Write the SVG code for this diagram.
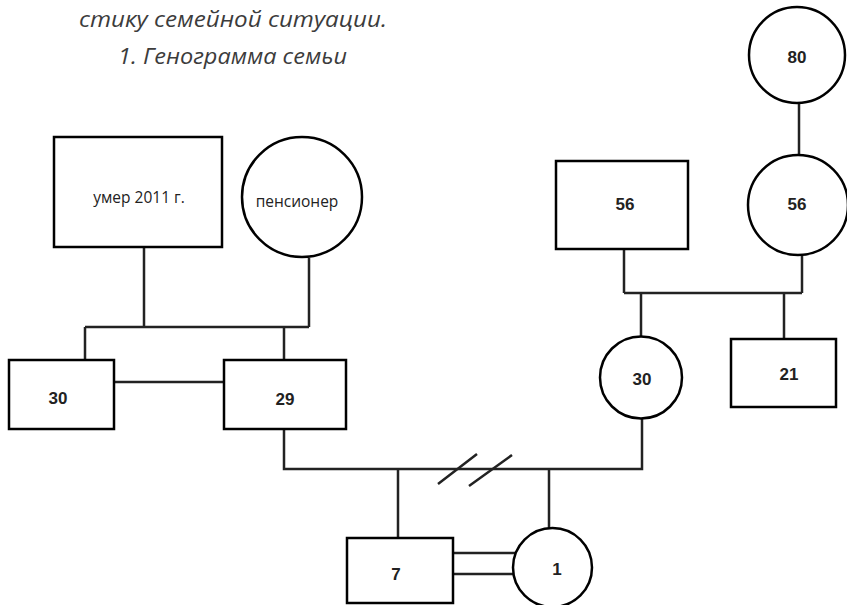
<svg xmlns="http://www.w3.org/2000/svg" width="847" height="605" viewBox="0 0 847 605">
<style>
.shape{fill:#fff;stroke:#000;stroke-width:2.5}
.ln{fill:none;stroke:#222;stroke-width:2.5}
.num{font-family:"Liberation Sans",Arial,sans-serif;font-weight:bold;font-size:17px;fill:#222;text-anchor:middle}
.lbl{font-family:"Open Sans","Liberation Sans",sans-serif;font-size:15.5px;fill:#222;text-anchor:middle}
.title{font-family:"Open Sans","Liberation Sans",sans-serif;font-style:italic;font-size:21px;fill:#3c3c3c}
</style>
<rect width="847" height="605" fill="#fff"/>
<text class="title" x="79" y="27" textLength="308" lengthAdjust="spacingAndGlyphs">стику семейной ситуации.</text>
<text class="title" x="118" y="64" textLength="229" lengthAdjust="spacingAndGlyphs">1. Генограмма семьи</text>
<g id="connectors">
<path class="ln" d="M144,247 V327 M309,258 V327 M85,327 H309 M85,327 V360 M284,327 V360"/>
<path class="ln" d="M114,382 H224"/>
<path class="ln" d="M799,103 V155"/>
<path class="ln" d="M624,249 V293 M802,255 V293 M624,293 H802 M641,293 V337 M784,293 V339"/>
<path class="ln" d="M284,429 V469 H642 V418 M398,469 V538 M549,469 V528"/>
<path class="ln" d="M438,484 L477,454 M469,486 L512,455"/>
<path class="ln" d="M453,553 H515 M453,574 H515"/>
</g>
<g id="n-dead"><rect class="shape" x="54" y="137" width="168" height="110"/><text class="lbl" x="139" y="203">умер 2011 г.</text></g>
<g id="n-pens"><circle class="shape" cx="302" cy="197" r="60"/><text class="lbl" x="297" y="207">пенсионер</text></g>
<g id="n-30m"><rect class="shape" x="9" y="360" width="105" height="69"/><text class="num" x="58" y="404">30</text></g>
<g id="n-29"><rect class="shape" x="224" y="360" width="122" height="69"/><text class="num" x="285" y="405">29</text></g>
<g id="n-80"><circle class="shape" cx="797" cy="55" r="48"/><text class="num" x="797" y="63">80</text></g>
<g id="n-56f"><circle class="shape" cx="798" cy="205" r="50"/><text class="num" x="797" y="210">56</text></g>
<g id="n-56m"><rect class="shape" x="556" y="161" width="132" height="88"/><text class="num" x="625" y="210">56</text></g>
<g id="n-30f"><circle class="shape" cx="641" cy="377.5" r="41"/><text class="num" x="642" y="385">30</text></g>
<g id="n-21"><rect class="shape" x="731" y="339" width="105" height="68"/><text class="num" x="789" y="380">21</text></g>
<g id="n-7"><rect class="shape" x="347" y="538" width="106" height="65"/><text class="num" x="396" y="580">7</text></g>
<g id="n-1"><circle class="shape" cx="552.5" cy="567.5" r="39.5"/><text class="num" x="557" y="575">1</text></g>
</svg>
